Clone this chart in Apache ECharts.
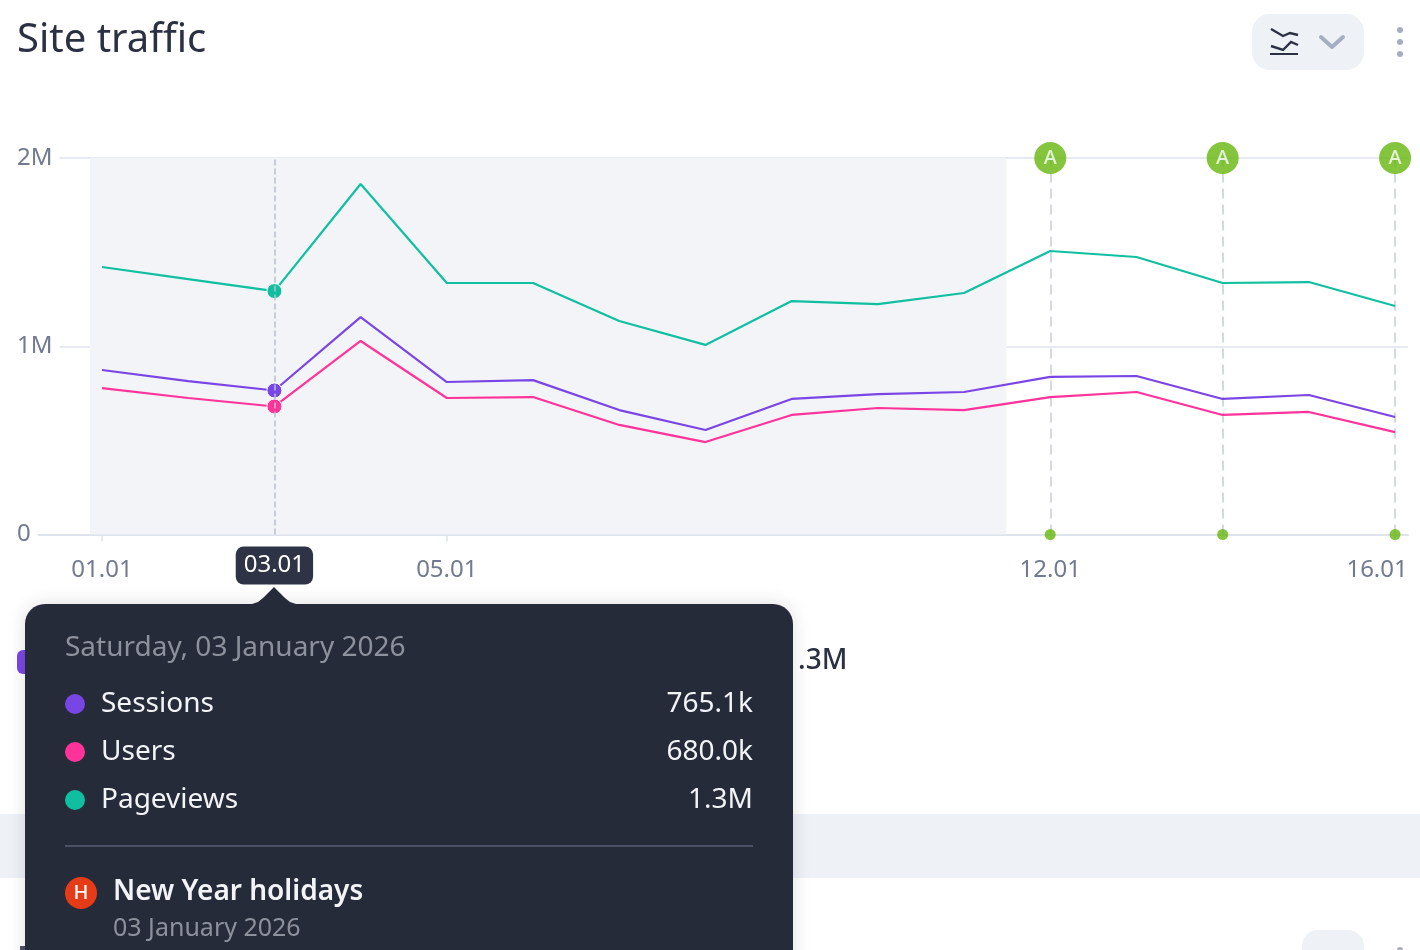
<!DOCTYPE html>
<html>
<head>
<meta charset="utf-8">
<style>html,body{margin:0;padding:0;background:#fff;overflow:hidden}#c{width:1420px;height:950px}</style>
<script src="https://cdn.jsdelivr.net/npm/echarts@6/dist/echarts.min.js"></script>
</head>
<body>
<div id="c"></div>
<script>
const days = [1,2,3,4,5,6,7,8,9,10,11,12,13,14,15,16];
const sessions = [874000,815000,765100,1155000,810000,820000,661000,555000,720000,746000,757000,837000,842000,720000,741000,624000];
const users = [778000,725000,680000,1028000,725000,730000,582000,491000,635000,672000,661000,730000,757000,635000,651000,544000];
const pageviews = [1421000,1357000,1293000,1862000,1336000,1336000,1134000,1007000,1240000,1224000,1283000,1506000,1474000,1336000,1341000,1214000];
const labelDays = [1,5,12,16];
const annotationDays = [12,14,16];
const shadeRange = [0.86,11.49];
const hoverDay = 3;
const yTicks = {0:'0',1000000:'1M',2000000:'2M'};

const FONT = '"Noto Sans"';
const DARK = '#262b3a';
const fmt = v => v >= 1e6 ? (v/1e6).toFixed(1)+'M' : (v/1e3).toFixed(1)+'k';
const dd = d => String(d).padStart(2,'0')+'.01';
const pair = arr => days.map((d,i)=>[d,arr[i]]);

function lineSeries(name,arr,color){
  return {name,type:'line',data:pair(arr),clip:false,showSymbol:true,symbol:'circle',
    symbolSize:(v)=>v[0]===hoverDay?15:0,
    lineStyle:{color,width:2.2},
    itemStyle:{color,borderColor:'#fff',borderWidth:1},z:5};
}
function txt(x,y,text,size,color,opts){
  return {type:'text',x,y,z:opts&&opts.z||100,silent:true,style:Object.assign({text,fill:color,fontSize:size,fontFamily:FONT,textVerticalAlign:'middle',verticalAlign:'middle'},opts&&opts.style||{})};
}
const i = days.indexOf(hoverDay);
const rows = [['Sessions','#7a45e5',sessions[i],704],['Users','#ff3399',users[i],752],['Pageviews','#10bfa0',pageviews[i],800]];

const graphic = [
  txt(17,41,'Site traffic',40,'#2b3142',{z:10}),
  {type:'rect',z:10,shape:{x:1252,y:14,width:112,height:56,r:18},style:{fill:'#eef1f6'}},
  {type:'polyline',z:11,shape:{points:[[1271,29],[1283,36],[1290,33],[1298,35]]},style:{stroke:'#2b3142',lineWidth:2.4,fill:null}},
  {type:'polyline',z:11,shape:{points:[[1271,46],[1283,50],[1291,42],[1298,45]]},style:{stroke:'#2b3142',lineWidth:2.4,fill:null}},
  {type:'line',z:11,shape:{x1:1270,y1:54,x2:1298,y2:54},style:{stroke:'#2b3142',lineWidth:2}},
  {type:'polyline',z:11,shape:{points:[[1321,37],[1332,47],[1343,37]]},style:{stroke:'#a6aec3',lineWidth:4,fill:null,lineCap:'round',lineJoin:'round'}},
  {type:'circle',z:11,shape:{cx:1400,cy:30,r:3},style:{fill:'#a6aec3'}},
  {type:'circle',z:11,shape:{cx:1400,cy:42,r:3},style:{fill:'#a6aec3'}},
  {type:'circle',z:11,shape:{cx:1400,cy:54,r:3},style:{fill:'#a6aec3'}},
  {type:'rect',z:10,shape:{x:17,y:650,width:24,height:24,r:6},style:{fill:'#7a45e5'}},
  txt(782,661,'1.3M',28,'#2b3142',{z:10,style:{fontWeight:500}}),
  {type:'rect',z:10,shape:{x:0,y:814,width:1420,height:64},style:{fill:'#eef1f6'}},
  {type:'rect',z:10,shape:{x:1302,y:930,width:62,height:40,r:16},style:{fill:'#eef1f6'}},
  {type:'circle',z:11,shape:{cx:1400,cy:950,r:3},style:{fill:'#a6aec3'}},
  {type:'rect',z:10,shape:{x:20,y:946,width:8,height:6},style:{fill:'#4b5064'}},
  {type:'rect',z:99,shape:{x:25,y:604,width:768,height:400,r:20},style:{fill:DARK,shadowBlur:18,shadowColor:'rgba(38,43,58,0.15)'}},
  {type:'polygon',z:99,shape:{points:[[244,605],[252,604],[258,602],[263,598],[268,593],[274,587],[280,593],[285,598],[290,602],[296,604],[304,605]]},style:{fill:DARK}},
  txt(65,648,'Saturday, 03 January 2026',28,'#8d919c'),
  {type:'line',z:100,shape:{x1:65,y1:846,x2:753,y2:846},style:{stroke:'#4b5064',lineWidth:2}},
  {type:'circle',z:100,shape:{cx:81,cy:893,r:16},style:{fill:'#e63b17'}},
  txt(81,893,'H',20,'#fff',{style:{textAlign:'center',align:'center',fontWeight:500}}),
  txt(113,892,'New Year holidays',28,'#f2f4f8',{style:{fontWeight:600}}),
  txt(113,929,'03 January 2026',25,'#8d919c')
];
rows.forEach(r=>{
  graphic.push({type:'circle',z:100,shape:{cx:75,cy:r[3],r:10},style:{fill:r[1]}});
  graphic.push(txt(101,r[3],r[0],28,'#f2f4f8'));
  graphic.push(txt(753,r[3],fmt(r[2]),28,'#f2f4f8',{style:{textAlign:'right',align:'right'}}));
});

const chart = echarts.init(document.getElementById('c'),null,{renderer:'canvas'});
chart.setOption({
  animation:false,
  textStyle:{fontFamily:FONT},
  grid:{left:17,right:12,top:158,bottom:415.5,containLabel:false},
  xAxis:{type:'value',min:0.014,max:16.15,
    splitLine:{show:false},
    axisLine:{show:true,onZero:false,lineStyle:{color:'#dde2ec',width:2}},
    axisTick:{show:true,customValues:labelDays,length:7,lineStyle:{color:'#dde2ec',width:1.5}},
    axisLabel:{show:true,customValues:labelDays,margin:24,fontSize:24,color:'#717a90',fontFamily:FONT,hideOverlap:false,showMinLabel:true,showMaxLabel:true,
      formatter:v=>v===16?'{last|'+dd(v)+'}':dd(v),
      rich:{last:{fontSize:24,color:'#717a90',fontFamily:FONT,padding:[0,36,0,0]}}},
    axisPointer:{show:true,value:hoverDay,status:'show',type:'line',snap:false,triggerTooltip:false,
      lineStyle:{color:'#b7c0d0',width:1.5},
      label:{show:true,margin:12,formatter:p=>dd(p.value),backgroundColor:'#2e3446',color:'#fff',fontSize:24,fontFamily:FONT,padding:[7,8,7,8],borderRadius:8,shadowBlur:0}}
  },
  yAxis:{type:'value',min:0,max:2000000,interval:1000000,
    axisLine:{show:false},axisTick:{show:false},
    splitLine:{show:true,lineStyle:{color:'#dfe3ed',width:1.5}},
    axisLabel:{inside:true,margin:0,fontSize:24,color:'#717a90',fontFamily:FONT,align:'left',backgroundColor:'#fff',padding:[2,7,2,0],formatter:v=>yTicks[v]}
  },
  series:[
    lineSeries('Pageviews',pageviews,'#10bfa0'),
    lineSeries('Sessions',sessions,'#7a45e5'),
    lineSeries('Users',users,'#ff3399'),
    {type:'line',data:[],silent:true,z:1,
      markArea:{silent:true,itemStyle:{color:'#f3f4f8'},data:[[{xAxis:shadeRange[0]},{xAxis:shadeRange[1]}]]},
      markLine:{silent:true,symbol:'none',label:{show:false},lineStyle:{color:'#cfd4df',type:[10,6],width:1.8},data:annotationDays.map(d=>({xAxis:d}))}},
    {type:'scatter',clip:false,z:6,symbol:'circle',symbolSize:11,itemStyle:{color:'#65b60d'},data:annotationDays.map(d=>[d,0])},
    {type:'scatter',clip:false,z:7,symbol:'circle',symbolSize:32,itemStyle:{color:'#65b60d'},
      label:{show:true,position:'inside',formatter:'A',color:'#fff',fontSize:20,fontFamily:FONT,fontWeight:500},
      data:annotationDays.map(d=>[d,2000000])}
  ],
  graphic:{elements:graphic}
});
</script>
</body>
</html>
